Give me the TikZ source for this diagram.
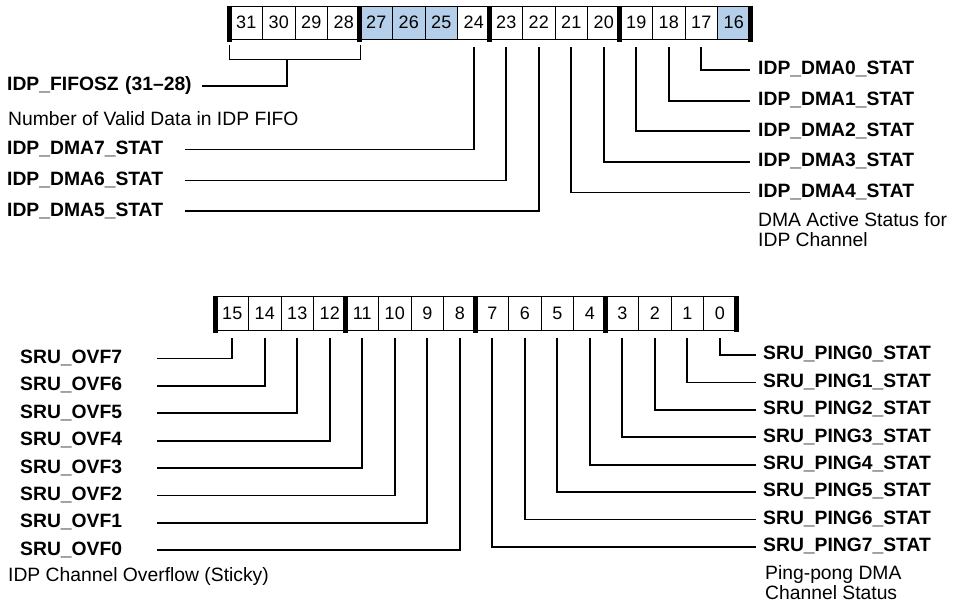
\documentclass[tikz,border=0pt]{standalone}
\usepackage{fontspec}
\setmainfont{Liberation Sans}
\usetikzlibrary{positioning,calc}
\definecolor{selbit}{HTML}{B5CFEA}
\newcommand{\regfont}{\fontsize{19.3}{20}\selectfont}
\newcommand{\bitfont}{\fontsize{18}{19}\selectfont}

\begin{document}
\begin{tikzpicture}[
  x=1pt, y=-1pt,
  cell/.style={rectangle, draw, line width=0.9pt, minimum width=32.5pt,
               minimum height=33pt, inner sep=0pt, font=\bitfont},
  hl27/.style={fill=selbit}, hl26/.style={fill=selbit},
  hl25/.style={fill=selbit}, hl16/.style={fill=selbit},
  grp/.style={line width=5pt},
  fld/.style={font=\regfont\bfseries, inner sep=0pt, text height=13.8pt,
              text depth=4pt},
  lfld/.style={fld, anchor=west, align=left},
  rfld/.style={fld, anchor=west, inner xsep=8pt},
  note/.style={font=\regfont, inner sep=0pt, align=left},
  lead/.style={line width=1.8pt},
]
\useasboundingbox (0,0) rectangle (953,602);

% upper register, bits 31..16
\foreach \n in {31,...,16}
  \node[cell, hl\n/.try] (b\n) at ({230+(31.5-\n)*32.5}, 22.5) {\n};
% lower register, bits 15..0
\foreach \n in {15,...,0}
  \node[cell, minimum height=34pt] (b\n) at ({216+(15.5-\n)*32.5}, 313) {\n};
\foreach \n in {31,27,23,19,15,11,7,3}
  \draw[grp] (b\n.north west) -- ([yshift=-3pt]b\n.south west);
\draw[grp] (b16.north east) -- ([yshift=-3pt]b16.south east);
\draw[grp] (b0.north east) -- ([yshift=-2pt]b0.south east);

% upper fields
\node[lfld, text width=195pt] (fifo) at (7,86) {IDP\_FIFOSZ (31--28)};
\node[note, anchor=north west] (fifonote) at (8,111.5) {Number of Valid Data in IDP FIFO};
\node[lfld, text width=178pt] (dma7) at (7,149.5) {IDP\_DMA7\_STAT};
\node[lfld, text width=178pt, below=12.7pt of dma7] (dma6) {IDP\_DMA6\_STAT};
\node[lfld, text width=178pt, below=12.7pt of dma6] (dma5) {IDP\_DMA5\_STAT};

\node[rfld] (dma0) at (750,70) {IDP\_DMA0\_STAT};
\node[rfld, below=12.4pt of dma0] (dma1) {IDP\_DMA1\_STAT};
\node[rfld, below=12.4pt of dma1] (dma2) {IDP\_DMA2\_STAT};
\node[rfld, below=12.4pt of dma2] (dma3) {IDP\_DMA3\_STAT};
\node[rfld, below=12.4pt of dma3] (dma4) {IDP\_DMA4\_STAT};
\node[note, anchor=north west] (dmanote) at (758,212) {DMA Active Status for\\IDP Channel};

% lower fields
\node[lfld, text width=137pt] (ovf7) at (20,358.5) {SRU\_OVF7};
\node[lfld, text width=137pt, below=9.2pt of ovf7] (ovf6) {SRU\_OVF6};
\node[lfld, text width=137pt, below=9.2pt of ovf6] (ovf5) {SRU\_OVF5};
\node[lfld, text width=137pt, below=9.2pt of ovf5] (ovf4) {SRU\_OVF4};
\node[lfld, text width=137pt, below=9.2pt of ovf4] (ovf3) {SRU\_OVF3};
\node[lfld, text width=137pt, below=9.2pt of ovf3] (ovf2) {SRU\_OVF2};
\node[lfld, text width=137pt, below=9.2pt of ovf2] (ovf1) {SRU\_OVF1};
\node[lfld, text width=137pt, below=9.2pt of ovf1] (ovf0) {SRU\_OVF0};
\node[note, anchor=west] (ovfnote) at (8,577) {IDP Channel Overflow (Sticky)};

\node[rfld, inner xsep=7pt] (ping0) at (756,355) {SRU\_PING0\_STAT};
\node[rfld, inner xsep=7pt, below=9.2pt of ping0] (ping1) {SRU\_PING1\_STAT};
\node[rfld, inner xsep=7pt, below=9.2pt of ping1] (ping2) {SRU\_PING2\_STAT};
\node[rfld, inner xsep=7pt, below=9.2pt of ping2] (ping3) {SRU\_PING3\_STAT};
\node[rfld, inner xsep=7pt, below=9.2pt of ping3] (ping4) {SRU\_PING4\_STAT};
\node[rfld, inner xsep=7pt, below=9.2pt of ping4] (ping5) {SRU\_PING5\_STAT};
\node[rfld, inner xsep=7pt, below=9.2pt of ping5] (ping6) {SRU\_PING6\_STAT};
\node[rfld, inner xsep=7pt, below=9.2pt of ping6] (ping7) {SRU\_PING7\_STAT};
\node[note, anchor=north west] (pingnote) at (765,565) {Ping-pong DMA\\Channel Status};

% leaders
\draw[lead] ([yshift=-6pt]b31.south west) -- ([yshift=-20pt]b31.south west)
  -- ([yshift=-20pt]b28.south east) -- ([yshift=-6pt]b28.south east);
\coordinate (brk) at ($(b31.south west)!0.44!(b28.south east)+(0,20)$);
\draw[lead] (brk) |- (fifo.east);
\foreach \b/\f in {24/dma7,23/dma6,22/dma5,15/ovf7,14/ovf6,13/ovf5,12/ovf4,
                   11/ovf3,10/ovf2,9/ovf1,8/ovf0}
  \draw[lead] ([yshift=-8pt]b\b.south) |- (\f.east);
\foreach \b/\f in {21/dma4,20/dma3,19/dma2,18/dma1,17/dma0,7/ping7,6/ping6,
                   5/ping5,4/ping4,3/ping3,2/ping2,1/ping1,0/ping0}
  \draw[lead] ([yshift=-8pt]b\b.south) |- (\f.west);

\end{tikzpicture}
\end{document}
